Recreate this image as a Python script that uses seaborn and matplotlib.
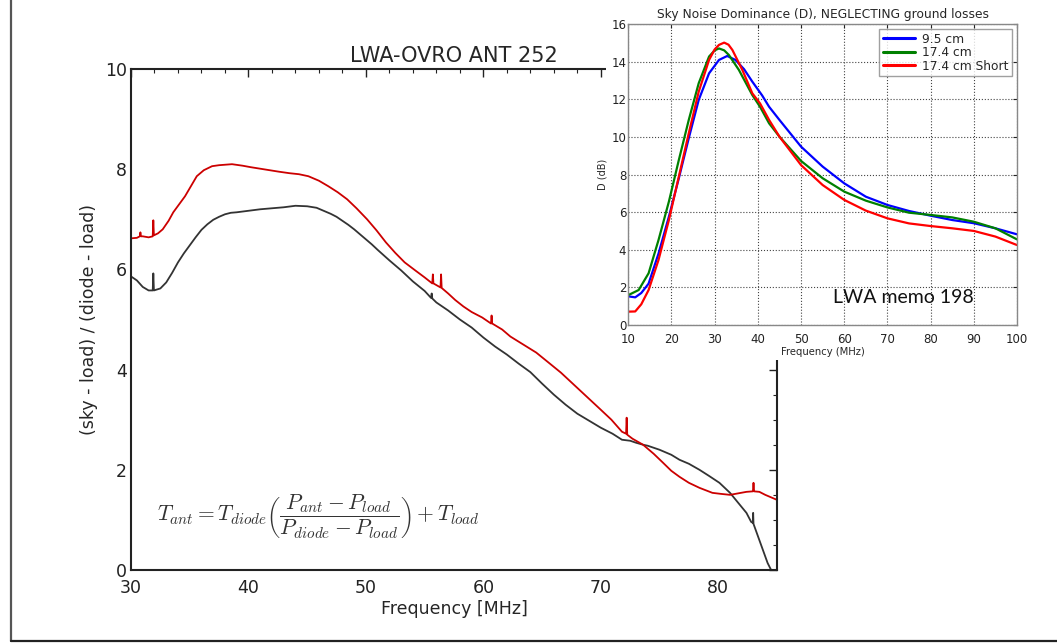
import matplotlib
matplotlib.use("Agg")
import numpy as np
import pandas as pd
import seaborn as sns
import matplotlib.pyplot as plt
from matplotlib.lines import Line2D
from matplotlib.patches import Rectangle
from matplotlib.ticker import MultipleLocator

# ---------------- main panel data ----------------
freq_black = [30.0, 30.5, 31.0, 31.5, 31.85, 31.9, 31.95, 32.5, 33.0, 33.5, 34.0, 34.5, 35.0, 35.5,
              36.0, 36.5, 37.0, 37.5, 38.0, 38.5, 39.0, 40.0, 41.0, 42.0, 43.0, 44.0, 45.0,
              45.8, 46.5, 47.0, 47.5, 48.0, 48.5, 49.0, 49.5, 50.0, 50.5, 51.0, 52.0, 53.0,
              54.0, 55.0, 55.55, 55.6, 55.65, 56.0, 57.0, 58.0, 59.0, 60.0, 61.0, 62.0, 63.0,
              64.0, 65.0, 66.0, 67.0, 68.0, 69.0, 70.0, 71.0, 71.8, 72.5, 73.0, 73.6, 74.0,
              75.0, 76.0, 76.7, 77.5, 78.4, 79.2, 80.1, 81.0, 81.7, 82.4, 82.8, 82.95, 82.97,
              83.0, 83.4, 83.8, 84.2, 84.5, 84.7]
ratio_black = [5.86, 5.78, 5.65, 5.58, 5.58, 5.92, 5.58, 5.62, 5.74, 5.93, 6.14, 6.32, 6.48, 6.64,
               6.79, 6.90, 6.99, 7.05, 7.10, 7.13, 7.14, 7.17, 7.20, 7.22, 7.24, 7.27, 7.26,
               7.23, 7.16, 7.11, 7.05, 6.97, 6.89, 6.80, 6.70, 6.60, 6.50, 6.39, 6.18, 5.98,
               5.76, 5.57, 5.43, 5.52, 5.42, 5.34, 5.18, 5.00, 4.84, 4.64, 4.46, 4.30, 4.12,
               3.95, 3.72, 3.50, 3.30, 3.12, 2.98, 2.84, 2.72, 2.60, 2.58, 2.54, 2.50, 2.48,
               2.40, 2.30, 2.20, 2.12, 2.00, 1.88, 1.74, 1.54, 1.34, 1.14, 0.96, 0.94, 1.14,
               0.92, 0.66, 0.40, 0.14, 0.0, -0.1]

freq_red = [30.0, 30.5, 30.75, 30.8, 30.85, 31.0, 31.5, 31.85, 31.9, 31.95, 32.3, 32.7, 33.2,
            33.6, 34.1, 34.6, 35.1, 35.6, 36.2, 36.9, 37.5, 38.6, 39.5, 40.2, 41.0, 41.8,
            42.6, 43.5, 44.3, 45.1, 46.0, 46.8, 47.6, 48.4, 49.2, 50.1, 50.9, 51.7, 52.5,
            53.3, 54.2, 55.0, 55.65, 55.7, 55.75, 56.35, 56.4, 56.45, 57.0, 57.6, 58.3, 59.0,
            59.9, 60.65, 60.7, 60.75, 61.6, 62.3, 63.4, 64.5, 65.5, 66.6, 67.7, 68.8, 69.9,
            70.9, 71.8, 72.15, 72.2, 72.25, 72.7, 73.6, 74.5, 75.3, 76.0, 76.7, 77.5, 78.4,
            79.5, 80.2, 81.0, 81.7, 82.4, 82.95, 83.0, 83.05, 83.5, 84.0, 84.4, 85.0]
ratio_red = [6.62, 6.63, 6.66, 6.74, 6.66, 6.66, 6.64, 6.66, 6.98, 6.68, 6.72, 6.80, 6.97,
             7.14, 7.30, 7.46, 7.66, 7.86, 7.98, 8.06, 8.08, 8.10, 8.07, 8.04, 8.01, 7.98,
             7.95, 7.92, 7.90, 7.86, 7.77, 7.66, 7.54, 7.40, 7.22, 7.00, 6.78, 6.54, 6.33,
             6.14, 5.98, 5.84, 5.72, 5.90, 5.72, 5.64, 5.90, 5.63, 5.52, 5.39, 5.26, 5.15,
             5.04, 4.92, 5.08, 4.92, 4.80, 4.66, 4.50, 4.34, 4.15, 3.94, 3.70, 3.46, 3.22,
             3.00, 2.76, 2.72, 3.04, 2.70, 2.62, 2.50, 2.32, 2.14, 1.98, 1.86, 1.74, 1.64,
             1.54, 1.52, 1.50, 1.53, 1.56, 1.57, 1.74, 1.57, 1.56, 1.50, 1.46, 1.40]

main_xticks = [30, 40, 50, 60, 70, 80]
main_yticks = [0, 2, 4, 6, 8, 10]

# ---------------- inset data ----------------
inset_labels = ["9.5 cm", "17.4 cm", "17.4 cm Short"]
f_95 = [10.1, 11.6, 13.0, 14.7, 17.0, 19.4, 21.7, 24.0, 26.3, 28.7, 31.0, 32.9, 34.8, 36.8,
        38.7, 41.0, 42.6, 45.0, 50.0, 55.0, 60.0, 65.0, 70.0, 75.0, 80.0, 85.0, 90.0, 95.0, 100.0]
d_95 = [1.52, 1.47, 1.70, 2.20, 3.80, 5.76, 7.80, 9.93, 11.96, 13.38, 14.09, 14.30, 14.09, 13.60,
        12.94, 12.20, 11.60, 10.90, 9.48, 8.42, 7.53, 6.82, 6.38, 6.06, 5.81, 5.58, 5.41, 5.14, 4.82]
f_174 = [10.1, 12.4, 14.7, 17.0, 19.4, 21.7, 24.0, 26.3, 28.7, 30.0, 31.0, 32.2, 33.3, 35.6,
         38.7, 40.5, 42.6, 45.0, 50.0, 55.0, 60.0, 65.0, 70.0, 75.0, 80.0, 85.0, 90.0, 95.0, 100.0]
d_174 = [1.60, 1.86, 2.75, 4.52, 6.56, 8.77, 10.90, 12.85, 14.27, 14.60, 14.70, 14.60, 14.35, 13.56,
         12.23, 11.60, 10.72, 10.01, 8.72, 7.80, 7.09, 6.61, 6.25, 5.97, 5.85, 5.72, 5.49, 5.14, 4.55]
f_174s = [10.1, 11.6, 13.0, 14.7, 17.0, 19.4, 21.7, 24.0, 26.3, 28.7, 30.0, 31.0, 32.2, 33.2,
          34.1, 36.4, 38.7, 40.5, 42.6, 45.0, 50.0, 55.0, 60.0, 65.0, 70.0, 75.0, 80.0, 85.0,
          90.0, 95.0, 100.0]
d_174s = [0.71, 0.72, 1.10, 1.86, 3.46, 5.58, 7.89, 10.19, 12.40, 14.09, 14.65, 14.89, 15.01, 14.90,
          14.62, 13.56, 12.32, 11.78, 10.90, 10.01, 8.50, 7.44, 6.65, 6.08, 5.67, 5.40, 5.26, 5.14,
          5.00, 4.70, 4.25]

sns.set_style("white")
plt.rcParams["font.family"] = ["DejaVu Sans"]
plt.rcParams["mathtext.fontset"] = "cm"

W, H = 1057, 643
fig = plt.figure(figsize=(W / 100, H / 100), dpi=100)
fig.patch.set_facecolor("white")

def fx(px):
    return px / W

def fy(py):
    return 1 - py / H

# ---------------- main axes ----------------
ax = fig.add_axes([fx(131), fy(570), fx(777) - fx(131), fy(69) - fy(570)])
ax.set_zorder(0)
dfb = pd.DataFrame({"freq": freq_black, "ratio": ratio_black})
dfr = pd.DataFrame({"freq": freq_red, "ratio": ratio_red})
sns.lineplot(data=dfb, x="freq", y="ratio", ax=ax, color="#333333", lw=1.3,
             estimator=None, sort=False)
sns.lineplot(data=dfr, x="freq", y="ratio", ax=ax, color="#cc0000", lw=1.3,
             estimator=None, sort=False)
ax.set_xlim(30, 85)
ax.set_ylim(0, 10)
ax.set_xticks(main_xticks)
ax.set_yticks(main_yticks)
ax.xaxis.set_minor_locator(MultipleLocator(2))
ax.yaxis.set_minor_locator(MultipleLocator(0.5))
ax.tick_params(which="both", direction="in", top=True, right=True, colors="#222222")
ax.tick_params(which="major", length=6, width=1.0, labelsize=12.5, pad=3)
ax.tick_params(axis="x", which="major", pad=6.5)
ax.tick_params(which="minor", length=3, width=0.8)
for sp in ax.spines.values():
    sp.set_linewidth(1.5)
    sp.set_color("#222222")
ax.set_xlabel("Frequency [MHz]", fontsize=12.5, labelpad=2.5)
ax.set_ylabel("(sky - load) / (diode - load)", fontsize=12.5, labelpad=5)
ax.set_title("LWA-OVRO ANT 252", fontsize=15, pad=5)
ax.text(32.2, 1.06,
        r"$T_{ant} = T_{diode}\left(\dfrac{P_{ant}-P_{load}}{P_{diode}-P_{load}}\right)+T_{load}$",
        fontsize=15.5, color="#333333", ha="left", va="center")

# white backing for the inset
fig.patches.append(Rectangle((fx(606), fy(360)), fx(1042) - fx(606), fy(0) - fy(360),
                             transform=fig.transFigure, facecolor="white",
                             edgecolor="none", zorder=1))

# ---------------- inset axes ----------------
ax2 = fig.add_axes([fx(628.3), fy(325), fx(1017) - fx(628.3), fy(24) - fy(325)])
ax2.set_zorder(2)
ax2.set_facecolor("white")
inset_colors = ["#0000ff", "#008000", "#ff0000"]
for fr, dd, lab, col in zip([f_95, f_174, f_174s], [d_95, d_174, d_174s], inset_labels, inset_colors):
    sns.lineplot(x=fr, y=dd, ax=ax2, color=col, lw=1.6, label=lab, estimator=None, sort=False)
ax2.set_xlim(10, 100)
ax2.set_ylim(0, 16)
ax2.set_xticks(range(10, 101, 10))
ax2.set_yticks(range(0, 17, 2))
ax2.grid(True, color="#444444", ls=":", lw=0.8)
ax2.tick_params(which="both", direction="in", top=True, right=True, length=3,
                labelsize=8.5, pad=1.5, colors="#222222")
ax2.tick_params(axis="x", pad=5.5)
for sp in ax2.spines.values():
    sp.set_linewidth(1.0)
    sp.set_color("#888888")
ax2.set_title("Sky Noise Dominance (D), NEGLECTING ground losses", fontsize=8.8, pad=4)
ax2.set_xlabel("Frequency (MHz)", fontsize=7.2, labelpad=0.8)
ax2.set_ylabel("D (dB)", fontsize=7, labelpad=3)
leg = ax2.legend(loc="upper right", fontsize=8.8, frameon=True, fancybox=False,
                 borderaxespad=0.4, handlelength=2.6, labelspacing=0.05,
                 borderpad=0.3, handletextpad=0.6)
leg.get_frame().set_edgecolor("#888888")
leg.get_frame().set_linewidth(1.0)
for lh in leg.get_lines():
    lh.set_linewidth(2.2)
ax2.text(57.4, 1.45, "LWA memo 198", fontsize=14, family=["Lato", "DejaVu Sans"],
         ha="left", va="center", color="#111111")

# ---------------- figure border ----------------
fig.add_artist(Line2D([fx(11), fx(11)], [fy(641), 1.0], transform=fig.transFigure,
                      color="#555555", lw=1.6))
fig.add_artist(Line2D([fx(11), 1.0], [fy(641), fy(641)], transform=fig.transFigure,
                      color="#222222", lw=1.6))

fig.savefig("out.png", dpi=100, facecolor="white")
